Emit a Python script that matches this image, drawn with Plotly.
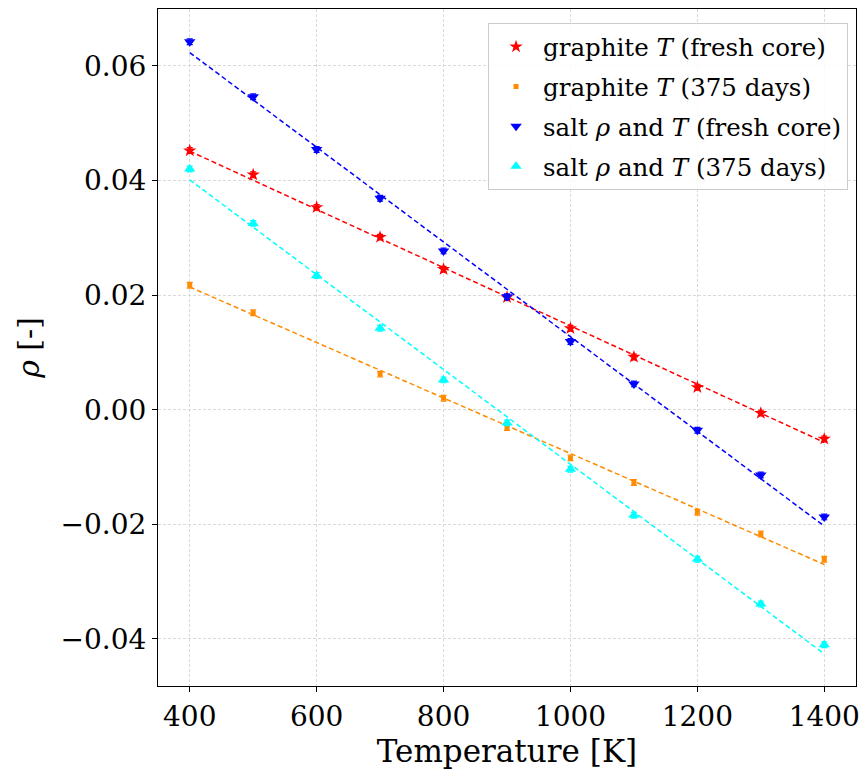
import plotly.graph_objects as go

# Data
temps = [400, 500, 600, 700, 800, 900, 1000, 1100, 1200, 1300, 1400]
temps_orange = [400, 500, 700, 800, 900, 1000, 1100, 1200, 1300, 1400]

graphite_fresh = [0.0452, 0.0410, 0.0353, 0.0301, 0.0245, 0.0196, 0.0142, 0.0092, 0.0039, -0.0006, -0.0051]
graphite_375 = [0.0217, 0.0169, 0.0062, 0.0020, -0.0031, -0.0084, -0.0127, -0.0179, -0.0217, -0.0261]
salt_fresh = [0.0642, 0.0546, 0.0454, 0.0369, 0.0277, 0.0197, 0.0119, 0.0045, -0.0036, -0.0114, -0.0187]
salt_375 = [0.0420, 0.0325, 0.0234, 0.0142, 0.0052, -0.0023, -0.0104, -0.0184, -0.0261, -0.0339, -0.0410]

err = 0.0005

fit_x = [400, 1400]
fit_graphite_fresh = [0.0451, -0.0057]
fit_graphite_375 = [0.0214, -0.0270]
fit_salt_fresh = [0.0623, -0.0203]
fit_salt_375 = [0.0401, -0.0426]

FONT = "DejaVu Serif"

series = [
    ("graphite <i>T</i> (fresh core)", temps, graphite_fresh, fit_graphite_fresh, "red", "star", 10),
    ("graphite <i>T</i> (375 days)", temps_orange, graphite_375, fit_graphite_375, "darkorange", "square", 5),
    ("salt <i>ρ</i> and <i>T</i> (fresh core)", temps, salt_fresh, fit_salt_fresh, "blue", "triangle-down", 10),
    ("salt <i>ρ</i> and <i>T</i> (375 days)", temps, salt_375, fit_salt_375, "cyan", "triangle-up", 10),
]

fig = go.Figure()
for i, (name, xs, ys, fit, color, sym, size) in enumerate(series):
    fig.add_trace(go.Scatter(
        x=fit_x, y=fit, mode="lines", showlegend=False,
        line=dict(color=color, width=1.5, dash="5px,3px"), hoverinfo="skip",
    ))
for i, (name, xs, ys, fit, color, sym, size) in enumerate(series):
    fig.add_trace(go.Scatter(
        x=xs, y=ys, mode="markers", name=name, legendgroup=f"g{i}",
        marker=dict(color=color, symbol=sym, size=size, line=dict(width=0)),
        error_y=dict(type="constant", value=err, color=color, thickness=1.2, width=3),
    ))

axis_common = dict(
    showline=True, linecolor="black", linewidth=1, mirror=True,
    ticks="outside", ticklen=5, tickcolor="black",
    showgrid=True, gridcolor="#d9d9d9", griddash="3px,2px", gridwidth=0.8,
    zeroline=False, tickfont=dict(family=FONT, size=28, color="black"),
)

fig.update_layout(
    width=868, height=769,
    margin=dict(l=158, r=10, t=8, b=83),
    plot_bgcolor="white", paper_bgcolor="white",
    font=dict(family=FONT, color="black"),
    xaxis=dict(range=[350, 1450], tickvals=[400, 600, 800, 1000, 1200, 1400],
               title=dict(text="Temperature [K]", font=dict(family=FONT, size=31), standoff=0),
               **axis_common),
    yaxis=dict(range=[-0.0482, 0.0699], tickvals=[-0.04, -0.02, 0.0, 0.02, 0.04, 0.06],
               tickformat=".2f",
               title=dict(text="<i>ρ</i> [-]", font=dict(family=FONT, size=30), standoff=12),
               **axis_common),
    legend=dict(
        x=0.9886, y=0.979, xanchor="right", yanchor="top",
        bgcolor="rgba(255,255,255,0.85)", bordercolor="#cccccc", borderwidth=1,
        font=dict(family=FONT, size=24.5, color="black"),
        traceorder="grouped", tracegroupgap=5,
        itemwidth=44,
    ),
)

fig.write_html("out.html")
